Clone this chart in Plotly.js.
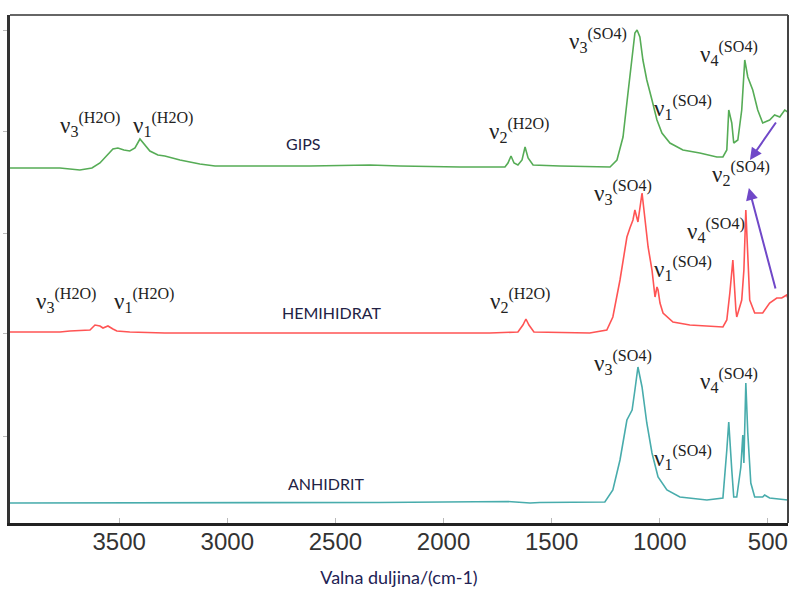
<!DOCTYPE html>
<html>
<head>
<meta charset="utf-8">
<script src="https://cdn.plot.ly/plotly-3.0.1.min.js"></script>
<style>html,body{margin:0;padding:0;background:#fff;}#chart{width:798px;height:593px;}</style>
</head>
<body>
<div id="chart"></div>
<script>
// Wavenumber (cm-1) and offset intensity (arbitrary units)
const gipsX = [4005,3774,3682,3626,3589,3552,3529,3506,3478,3451,3427,3404,3381,3358,3321,3289,3219,3127,3057,2849,2618,2340,2202,1924,1716,1702,1688,1674,1656,1637,1623,1609,1586,1462,1277,1230,1198,1170,1147,1128,1115,1105,1092,1078,1060,1036,1013,990,953,893,815,736,708,690,681,667,658,639,621,607,593,570,547,524,492,469,445,422,408];
const gipsY = [3.55,3.55,3.53,3.55,3.60,3.69,3.74,3.75,3.73,3.72,3.75,3.84,3.78,3.72,3.68,3.67,3.63,3.59,3.57,3.57,3.57,3.58,3.57,3.56,3.56,3.60,3.67,3.60,3.58,3.63,3.76,3.65,3.58,3.57,3.56,3.56,3.63,3.86,4.30,4.63,4.90,4.93,4.86,4.63,4.43,4.23,4.03,3.90,3.80,3.73,3.70,3.66,3.66,3.73,4.13,4.00,3.80,3.83,4.13,4.63,4.46,4.33,4.13,4.00,4.03,4.08,4.06,4.13,4.11];

const hemiX = [4005,3774,3728,3635,3612,3589,3575,3552,3529,3511,3451,3289,2665,2202,1786,1656,1633,1619,1605,1582,1324,1245,1217,1184,1152,1138,1124,1115,1101,1082,1068,1054,1036,1022,1013,1008,999,985,939,861,708,690,676,662,648,644,621,611,602,597,584,561,524,492,459,436,413,408];
const hemiY = [1.91,1.91,1.92,1.93,1.98,1.97,1.95,1.97,1.94,1.92,1.91,1.90,1.90,1.90,1.90,1.91,1.98,2.04,1.98,1.91,1.90,1.93,2.06,2.43,2.86,2.95,3.03,3.13,3.01,3.30,3.03,2.76,2.53,2.26,2.36,2.33,2.20,2.10,2.01,1.98,1.96,2.03,2.30,2.63,2.13,2.06,2.23,2.53,3.13,2.86,2.23,2.10,2.10,2.20,2.25,2.25,2.28,2.25];

const anhX = [4005,3000,2665,2300,1702,1600,1555,1254,1217,1184,1152,1128,1115,1101,1082,1060,1036,1008,967,907,782,708,690,681,667,658,644,625,616,611,602,593,579,561,524,515,492,408];
const anhY = [0.20,0.20,0.20,0.205,0.215,0.20,0.205,0.21,0.33,0.63,1.03,1.13,1.33,1.56,1.36,1.00,0.70,0.46,0.33,0.26,0.23,0.25,0.73,1.01,0.53,0.26,0.26,0.56,0.88,0.60,1.40,0.90,0.40,0.26,0.26,0.28,0.25,0.23];

const xTicks = [3500,3000,2500,2000,1500,1000,500];
const yTicks = [0.87,1.90,2.90,3.92,4.93];

// Peak labels: [text, wavenumber, offset]
const nu = (s, g) => 'ν<sub>' + s + '</sub><sup>(' + g + ')</sup>';
const peakLabels = [
  [nu('3','H2O'), 3635, 3.99], [nu('1','H2O'), 3298, 3.99],
  [nu('2','H2O'), 1651, 3.93], [nu('3','SO4'), 1287, 4.83],
  [nu('1','SO4'), 894, 4.16],  [nu('4','SO4'), 680, 4.70],
  [nu('2','SO4'), 624, 3.50],
  [nu('3','H2O'), 3746, 2.23], [nu('1','H2O'), 3385, 2.23],
  [nu('2','H2O'), 1646, 2.23], [nu('3','SO4'), 1170, 3.31],
  [nu('4','SO4'), 740, 2.93],  [nu('1','SO4'), 894, 2.55],
  [nu('3','SO4'), 1170, 1.61], [nu('4','SO4'), 680, 1.43],
  [nu('1','SO4'), 894, 0.66]
];
const sampleNames = [['GIPS', 2650, 3.80], ['HEMIHIDRAT', 2520, 2.11], ['ANHIDRIT', 2543, 0.40]];
// arrows: [tailX, tailY, headX, headY]
const arrows = [[458, 4.02, 583, 3.63], [463, 2.33, 588, 3.35]];

const traces = [
  {x: gipsX, y: gipsY, mode: 'lines', line: {color: 'rgb(86,172,86)', width: 1.6}, name: 'GIPS'},
  {x: hemiX, y: hemiY, mode: 'lines', line: {color: 'rgb(255,84,84)', width: 1.6}, name: 'HEMIHIDRAT'},
  {x: anhX, y: anhY, mode: 'lines', line: {color: 'rgb(72,172,172)', width: 1.6}, name: 'ANHIDRIT'}
];

const annotations = [];
peakLabels.forEach(p => annotations.push({
  x: p[1], y: p[2], xref: 'x', yref: 'y', text: p[0], showarrow: false,
  font: {family: 'Liberation Serif, serif', size: 23, color: '#222'}
}));
sampleNames.forEach(s => annotations.push({
  x: s[1], y: s[2], xref: 'x', yref: 'y', text: s[0], showarrow: false,
  font: {family: 'Lato, sans-serif', size: 16, color: '#222244'}
}));
arrows.forEach(a => annotations.push({
  x: a[2], y: a[3], ax: a[0], ay: a[1], xref: 'x', yref: 'y', axref: 'x', ayref: 'y',
  text: '', showarrow: true, arrowhead: 2, arrowsize: 1.2, arrowwidth: 2, arrowcolor: 'rgb(112,72,200)'
}));

const layout = {
  width: 798, height: 593,
  margin: {l: 10, r: 10, t: 15, b: 70},
  paper_bgcolor: '#fff', plot_bgcolor: '#fff',
  showlegend: false,
  xaxis: {
    range: [4005, 407], tickvals: xTicks, ticktext: xTicks.map(String),
    ticks: 'inside', ticklen: 5, tickcolor: '#bbb', tickwidth: 1,
    showgrid: false, zeroline: false, showline: true, linecolor: '#222', linewidth: 3,
    tickfont: {family: 'Liberation Sans, Arial, sans-serif', size: 24, color: '#333'},
    ticklabelstandoff: -5,
    title: {text: 'Valna duljina/(cm-1)', standoff: 18, font: {family: 'Lato, sans-serif', size: 18, color: '#222255'}}
  },
  yaxis: {
    range: [0, 5.08], tickvals: yTicks, showticklabels: false,
    ticks: 'outside', ticklen: 4, tickcolor: '#bbb', tickwidth: 1,
    showgrid: false, zeroline: false, showline: true, linecolor: '#333', linewidth: 3
  },
  shapes: [
    {type: 'line', xref: 'paper', yref: 'paper', x0: 0, x1: 1, y0: 1, y1: 1, line: {color: '#666', width: 2}},
    {type: 'line', xref: 'paper', yref: 'paper', x0: 1, x1: 1, y0: 0, y1: 1, line: {color: '#444', width: 2}}
  ],
  annotations: annotations
};

Plotly.newPlot('chart', traces, layout, {displayModeBar: false, staticPlot: true});
</script>
</body>
</html>
